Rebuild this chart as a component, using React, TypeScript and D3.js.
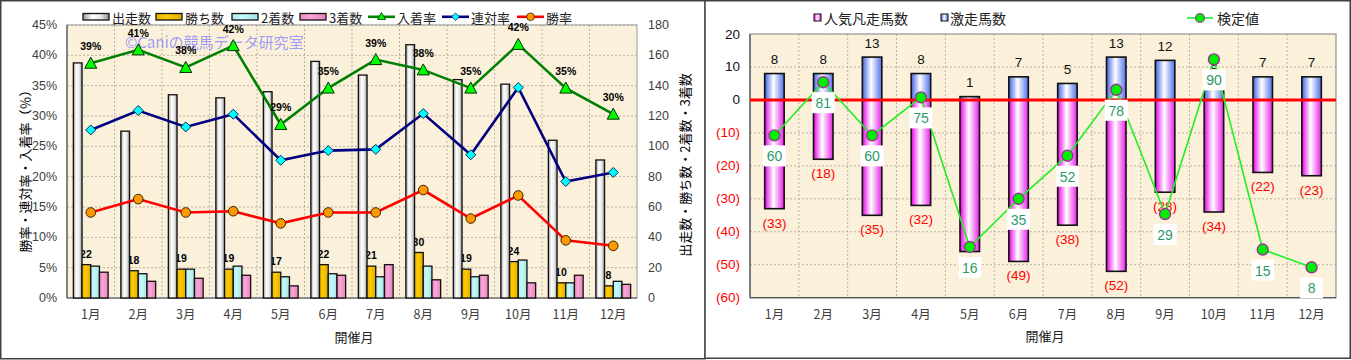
import React from 'react';
import * as d3 from 'd3';

const months = ['1月', '2月', '3月', '4月', '5月', '6月', '7月', '8月', '9月', '10月', '11月', '12月'];

// Left chart data
const starters = [155, 110, 134, 132, 136, 156, 147, 167, 144, 141, 104, 91];
const wins = [22, 18, 19, 19, 17, 22, 21, 30, 19, 24, 10, 8];
const seconds = [21, 16, 19, 21, 14, 16, 14, 21, 14, 25, 10, 11];
const thirds = [17, 11, 13, 15, 8, 15, 22, 12, 15, 10, 15, 9];
const winRate = [14.1, 16.3, 14.1, 14.3, 12.3, 14.1, 14.1, 17.8, 13.1, 16.9, 9.5, 8.6];
const rentaiRate = [27.7, 30.9, 28.2, 30.3, 22.7, 24.3, 24.5, 30.4, 23.6, 34.7, 19.2, 20.7];
const placeRate = [38.7, 40.9, 38.0, 41.6, 28.6, 34.6, 39.3, 37.6, 34.6, 41.8, 34.6, 30.3];
const leftTicks = [0, 5, 10, 15, 20, 25, 30, 35, 40, 45];
const rightCountTicks = [0, 20, 40, 60, 80, 100, 120, 140, 160, 180];

// Right chart data
const popularFailures = [-33, -18, -35, -32, -46, -49, -38, -52, -28, -34, -22, -23];
const darkHorses = [8, 8, 13, 8, 1, 7, 5, 13, 12, 5, 7, 7];
const testValues = [60, 81, 60, 75, 16, 35, 52, 78, 29, 90, 15, 8];
const diffTicks = [20, 10, 0, -10, -20, -30, -40, -50, -60];

const FONT = '"Noto Sans CJK JP", "Noto Sans", sans-serif';
const PAPER = '#fbf0da';

function LeftChart() {
  const x0 = 67, x1 = 637, yT = 25, yB = 298;
  const x = d3.scaleBand<string>().domain(months).range([x0, x1]);
  const yPct = d3.scaleLinear().domain([0, 45]).range([yB, yT]);
  const yCnt = d3.scaleLinear().domain([0, 180]).range([yB, yT]);
  const bw = 8.7;
  const cx = (i: number) => (x(months[i]) as number) + x.bandwidth() / 2;
  const series = [
    { name: '出走数', data: starters, fill: 'url(#gWhite)' },
    { name: '勝ち数', data: wins, fill: 'url(#gGold)' },
    { name: '2着数', data: seconds, fill: 'url(#gCyan)' },
    { name: '3着数', data: thirds, fill: 'url(#gPink)' },
  ];
  const line = (vals: number[]) =>
    d3.line<number>().x((_, i) => cx(i)).y((v) => yPct(v))(vals) as string;

  const legendItems = [
    { t: '出走数', kind: 'bar', fill: 'url(#gWhite)', x: 83 },
    { t: '勝ち数', kind: 'bar', fill: 'url(#gGold)', x: 156 },
    { t: '2着数', kind: 'bar', fill: 'url(#gCyan)', x: 232 },
    { t: '3着数', kind: 'bar', fill: 'url(#gPink)', x: 300 },
    { t: '入着率', kind: 'tri', x: 368 },
    { t: '連対率', kind: 'dia', x: 442 },
    { t: '勝率', kind: 'cir', x: 517 },
  ];

  return (
    <g>
      <rect x={0.75} y={0.75} width={704.5} height={358} fill="#fff" stroke="#404040" strokeWidth={1.5} />
      {/* plot background */}
      <rect x={x0} y={yT} width={x1 - x0} height={yB - yT} fill={PAPER} />
      <rect x={x0} y={yT} width={x1 - x0} height={yB - yT} fill="#fff" filter="url(#paper)" opacity={0.22} />
      {/* grid */}
      {leftTicks.slice(1).map((t) => (
        <line key={'h' + t} x1={x0} x2={x1} y1={yPct(t)} y2={yPct(t)} stroke="#aaa298" strokeWidth={0.8} strokeDasharray="2,2" />
      ))}
      {months.slice(1).map((m) => (
        <line key={'v' + m} x1={x(m)} x2={x(m)} y1={yT} y2={yB} stroke="#aaa298" strokeWidth={0.8} strokeDasharray="2,2" />
      ))}
      <rect x={x0} y={yT} width={x1 - x0} height={yB - yT} fill="none" stroke="#9a9a9a" strokeWidth={1} />
      <line x1={x0} x2={x0} y1={yT} y2={yB} stroke="#555" strokeWidth={1.2} />
      <line x1={x0} x2={x1} y1={yB} y2={yB} stroke="#555" strokeWidth={1.2} />
      {/* wins labels (drawn under bars) */}
      {wins.map((v, i) => (
        <text key={'wl' + i} x={cx(i) - bw / 2 - 0.5} y={yCnt(v) - 11} fontSize={10.5} fontWeight="bold" textAnchor="middle" dominantBaseline="central" fontFamily="Arial, sans-serif" fill="#000">{v}</text>
      ))}
      {/* bars */}
      {series.map((s, si) =>
        s.data.map((v, i) => (
          <rect key={s.name + i} x={cx(i) - 2 * bw + si * bw} y={yCnt(v)} width={bw} height={yB - yCnt(v)} fill={s.fill} stroke="#111" strokeWidth={1.3} />
        ))
      )}
      {/* watermark */}
      <text x={125} y={48} fontSize={15} fill="#7f7fff" opacity={0.75} fontFamily={FONT}>©Caniの競馬データ研究室</text>
      {/* lines */}
      <path d={line(winRate)} fill="none" stroke="#ff0000" strokeWidth={2.6} />
      <path d={line(rentaiRate)} fill="none" stroke="#000080" strokeWidth={2.6} />
      <path d={line(placeRate)} fill="none" stroke="#008000" strokeWidth={2.6} />
      {winRate.map((v, i) => (
        <circle key={'wc' + i} cx={cx(i)} cy={yPct(v)} r={4.8} fill="#ff9900" stroke="#3a2000" strokeWidth={1} />
      ))}
      {rentaiRate.map((v, i) => {
        const px = cx(i), py = yPct(v);
        return <path key={'rd' + i} d={`M${px},${py - 5}L${px + 5},${py}L${px},${py + 5}L${px - 5},${py}Z`} fill="#00ffff" stroke="#003060" strokeWidth={1} />;
      })}
      {placeRate.map((v, i) => {
        const px = cx(i), py = yPct(v);
        return <path key={'pt' + i} d={`M${px},${py - 6}L${px + 6},${py + 5}L${px - 6},${py + 5}Z`} fill="#00ff00" stroke="#003000" strokeWidth={1} />;
      })}
      {placeRate.map((v, i) => (
        <text key={'pl' + i} x={cx(i)} y={yPct(v) - 17} fontSize={10.5} fontWeight="bold" textAnchor="middle" dominantBaseline="central" fontFamily="Arial, sans-serif" fill="#000">{Math.round(v)}%</text>
      ))}
      {/* axes labels */}
      {leftTicks.map((t) => (
        <text key={'lt' + t} x={57} y={yPct(t)} fontSize={12.5} textAnchor="end" dominantBaseline="central" fill="#404040" fontFamily="Arial, sans-serif">{t}%</text>
      ))}
      {rightCountTicks.map((t) => (
        <text key={'rt' + t} x={648} y={yCnt(t)} fontSize={12.5} textAnchor="start" dominantBaseline="central" fill="#404040" fontFamily="Arial, sans-serif">{t}</text>
      ))}
      {months.map((m, i) => (
        <text key={'xl' + m} x={cx(i)} y={313} fontSize={12.5} textAnchor="middle" dominantBaseline="central" fill="#404040" fontFamily={FONT}>{m}</text>
      ))}
      <text x={354} y={336} fontSize={13} textAnchor="middle" dominantBaseline="central" fill="#222" fontFamily={FONT}>開催月</text>
      <text transform="translate(24,168) rotate(-90)" fontSize={13} textAnchor="middle" dominantBaseline="central" fill="#000" fontFamily={FONT}>勝率・連対率・入着率（％）</text>
      <text transform="translate(684,165) rotate(-90)" fontSize={13} textAnchor="middle" dominantBaseline="central" fill="#000" fontFamily={FONT}>出走数・勝ち数・2着数・3着数</text>
      {/* legend */}
      {legendItems.map((it) => (
        <g key={it.t}>
          {it.kind === 'bar' ? (
            <rect x={it.x} y={13.5} width={26} height={6.5} fill={it.fill} stroke="#111" strokeWidth={1.3} />
          ) : (
            <g>
              <line x1={it.x} x2={it.x + 27} y1={16.8} y2={16.8} stroke={it.kind === 'tri' ? '#008000' : it.kind === 'dia' ? '#000080' : '#ff0000'} strokeWidth={2.6} />
              {it.kind === 'tri' && <path d={`M${it.x + 13.5},${12.5}L${it.x + 17.5},${19.5}L${it.x + 9.5},${19.5}Z`} fill="#00ff00" stroke="#003000" strokeWidth={0.8} />}
              {it.kind === 'dia' && <path d={`M${it.x + 13.5},${13}L${it.x + 17.3},${16.8}L${it.x + 13.5},${20.6}L${it.x + 9.7},${16.8}Z`} fill="#00ffff" stroke="#003060" strokeWidth={0.8} />}
              {it.kind === 'cir' && <circle cx={it.x + 13.5} cy={16.8} r={3.8} fill="#ff9900" stroke="#3a2000" strokeWidth={0.8} />}
            </g>
          )}
          <text x={it.x + 29} y={17} fontSize={13} dominantBaseline="central" fill="#222" fontFamily={FONT}>{it.t}</text>
        </g>
      ))}
    </g>
  );
}

function RightChart() {
  const x0 = 750, x1 = 1336, yT = 34, yB = 297.7;
  const x = d3.scaleBand<string>().domain(months).range([x0, x1]);
  const y = d3.scaleLinear().domain([-60, 20]).range([yB, yT]);
  const y2 = d3.scaleLinear().domain([-4, 100]).range([yB, yT]);
  const bw = 19.5;
  const cx = (i: number) => (x(months[i]) as number) + x.bandwidth() / 2;
  const testLine = d3.line<number>().x((_, i) => cx(i)).y((v) => y2(v))(testValues) as string;
  const fmt = (v: number) => (v < 0 ? `(${-v})` : `${v}`);

  return (
    <g>
      <rect x={705} y={0.75} width={645.25} height={357.5} fill="#fff" stroke="#404040" strokeWidth={1.5} />
      <rect x={x0} y={yT} width={x1 - x0} height={yB - yT} fill={PAPER} />
      <rect x={x0} y={yT} width={x1 - x0} height={yB - yT} fill="#fff" filter="url(#paper)" opacity={0.22} />
      {diffTicks.slice(1).map((t) => (
        <line key={'h' + t} x1={x0} x2={x1} y1={y(t)} y2={y(t)} stroke="#aaa298" strokeWidth={0.8} strokeDasharray="2,2" />
      ))}
      {months.slice(1).map((m) => (
        <line key={'v' + m} x1={x(m)} x2={x(m)} y1={yT} y2={yB} stroke="#aaa298" strokeWidth={0.8} strokeDasharray="2,2" />
      ))}
      <rect x={x0} y={yT} width={x1 - x0} height={yB - yT} fill="none" stroke="#9a9a9a" strokeWidth={1.3} />
      <line x1={x0} x2={x0} y1={yT} y2={yB} stroke="#555" strokeWidth={1.2} />
      <line x1={x0} x2={x1} y1={yB} y2={yB} stroke="#555" strokeWidth={1.2} />
      {/* bars */}
      {popularFailures.map((v, i) => (
        <rect key={'pf' + i} x={cx(i) - bw / 2} y={y(0)} width={bw} height={y(v) - y(0)} fill="url(#gMagenta)" stroke="#111" strokeWidth={1.6} />
      ))}
      {darkHorses.map((v, i) => (
        <rect key={'dh' + i} x={cx(i) - bw / 2} y={y(v)} width={bw} height={y(0) - y(v)} fill="url(#gBlue)" stroke="#111" strokeWidth={1.6} />
      ))}
      <line x1={x0} x2={x1} y1={y(0)} y2={y(0)} stroke="#ff0000" strokeWidth={3} />
      {/* bar labels */}
      {darkHorses.map((v, i) => (
        <text key={'dl' + i} x={cx(i)} y={y(v) - 14} fontSize={13.5} textAnchor="middle" dominantBaseline="central" fill="#111" fontFamily="Arial, sans-serif">{v}</text>
      ))}
      {popularFailures.map((v, i) => (
        <text key={'pl' + i} x={cx(i)} y={y(v) + 14.5} fontSize={13.5} textAnchor="middle" dominantBaseline="central" fill="#ff0000" fontFamily="Arial, sans-serif">{fmt(v)}</text>
      ))}
      {/* test value line */}
      <path d={testLine} fill="none" stroke="#22ee22" strokeWidth={1.6} />
      {testValues.map((v, i) => (
        <g key={'tv' + i}>
          <rect x={cx(i) - 11.5} y={y2(v) + 10} width={23} height={21} fill="#fff" />
          <text x={cx(i)} y={y2(v) + 21} fontSize={14} textAnchor="middle" dominantBaseline="central" fill="#2e9968" fontFamily="Arial, sans-serif">{v}</text>
        </g>
      ))}
      {testValues.map((v, i) => (
        <circle key={'tc' + i} cx={cx(i)} cy={y2(v)} r={5.5} fill="#00ee00" stroke="#993399" strokeWidth={1.4} />
      ))}
      {/* axes */}
      {diffTicks.map((t) => (
        <text key={'yt' + t} x={740} y={y(t)} fontSize={13.5} textAnchor="end" dominantBaseline="central" fill={t < 0 ? '#ff0000' : '#111'} fontFamily="Arial, sans-serif">{fmt(t)}</text>
      ))}
      {months.map((m, i) => (
        <text key={'xl' + m} x={cx(i)} y={313} fontSize={12.5} textAnchor="middle" dominantBaseline="central" fill="#404040" fontFamily={FONT}>{m}</text>
      ))}
      <text x={1045} y={335} fontSize={13} textAnchor="middle" dominantBaseline="central" fill="#222" fontFamily={FONT}>開催月</text>
      {/* legend */}
      <rect x={814} y={14} width={7} height={7} fill="url(#gMagenta)" stroke="#111" strokeWidth={1} />
      <text x={824} y={18} fontSize={14} dominantBaseline="central" fill="#222" fontFamily={FONT}>人気凡走馬数</text>
      <rect x={941} y={14} width={7} height={7} fill="url(#gBlue)" stroke="#111" strokeWidth={1} />
      <text x={950} y={18} fontSize={14} dominantBaseline="central" fill="#222" fontFamily={FONT}>激走馬数</text>
      <line x1={1187} x2={1213} y1={18} y2={18} stroke="#22ee22" strokeWidth={1.6} />
      <circle cx={1200} cy={18} r={4.5} fill="#00ee00" stroke="#993399" strokeWidth={1.2} />
      <text x={1217} y={18} fontSize={14} dominantBaseline="central" fill="#222" fontFamily={FONT}>検定値</text>
    </g>
  );
}

export default function App() {
  return (
    <svg width={1351} height={360} style={{ position: 'absolute', left: 0, top: 0, background: '#fff' }} fontFamily={FONT}>
      <defs>
        <linearGradient id="gWhite" x1="0" x2="1" y1="0" y2="0">
          <stop offset="0" stopColor="#9a9a9a" />
          <stop offset="0.35" stopColor="#ffffff" />
          <stop offset="0.7" stopColor="#e6e6e6" />
          <stop offset="1" stopColor="#8c8c8c" />
        </linearGradient>
        <linearGradient id="gGold" x1="0" x2="1" y1="0" y2="0">
          <stop offset="0" stopColor="#e8b400" />
          <stop offset="0.4" stopColor="#ffcc00" />
          <stop offset="1" stopColor="#e0a800" />
        </linearGradient>
        <linearGradient id="gCyan" x1="0" x2="1" y1="0" y2="0">
          <stop offset="0" stopColor="#a8ecec" />
          <stop offset="0.4" stopColor="#c8f8f8" />
          <stop offset="1" stopColor="#a0e4e4" />
        </linearGradient>
        <linearGradient id="gPink" x1="0" x2="1" y1="0" y2="0">
          <stop offset="0" stopColor="#ee88c0" />
          <stop offset="0.4" stopColor="#f8a8d8" />
          <stop offset="1" stopColor="#e880b8" />
        </linearGradient>
        <linearGradient id="gBlue" x1="0" x2="1" y1="0" y2="0">
          <stop offset="0" stopColor="#4060e0" />
          <stop offset="0.45" stopColor="#ffffff" />
          <stop offset="1" stopColor="#5070e8" />
        </linearGradient>
        <linearGradient id="gMagenta" x1="0" x2="1" y1="0" y2="0">
          <stop offset="0" stopColor="#e800e8" />
          <stop offset="0.45" stopColor="#ffffff" />
          <stop offset="1" stopColor="#e820e8" />
        </linearGradient>
        <filter id="paper" x="0" y="0" width="100%" height="100%">
          <feTurbulence type="fractalNoise" baseFrequency="0.035" numOctaves={3} seed={4} result="n" />
          <feColorMatrix in="n" type="matrix" values="0 0 0 0 0.95  0 0 0 0 0.88  0 0 0 0 0.72  0 0 0 1.2 -0.45" />
        </filter>
      </defs>
      <LeftChart />
      <RightChart />
    </svg>
  );
}
